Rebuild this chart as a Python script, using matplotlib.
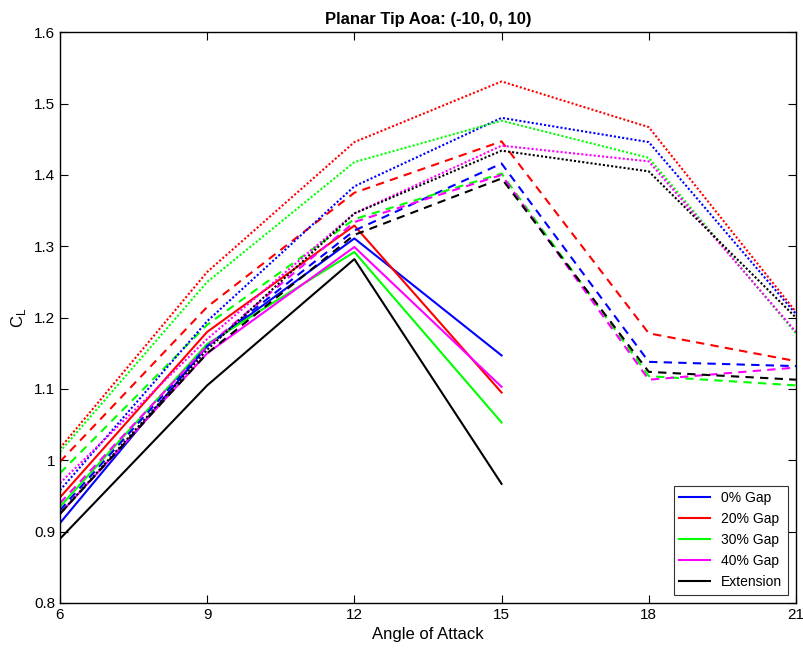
import matplotlib.pyplot as plt
import numpy as np
from matplotlib.ticker import FuncFormatter

plt.rcParams['font.family'] = ['Liberation Sans', 'DejaVu Sans']

# angles of attack
aoa_short = [6, 9, 12, 15]
aoa_long = [6, 9, 12, 15, 18, 21]

labels = ['0% Gap', '20% Gap', '30% Gap', '40% Gap', 'Extension']
colors = [(0, 0, 1), (1, 0, 0), (0, 1, 0), (1, 0, 1), (0, 0, 0)]

# solid lines (6-15)
solid_gap0 = [0.912, 1.160, 1.311, 1.147]
solid_gap20 = [0.948, 1.180, 1.329, 1.095]
solid_gap30 = [0.935, 1.163, 1.292, 1.053]
solid_gap40 = [0.925, 1.150, 1.299, 1.103]
solid_ext = [0.890, 1.105, 1.282, 0.967]

# dashed lines (6-21)
dash_gap0 = [0.930, 1.160, 1.322, 1.416, 1.138, 1.132]
dash_gap20 = [0.998, 1.215, 1.375, 1.447, 1.178, 1.139]
dash_gap30 = [0.982, 1.190, 1.338, 1.402, 1.118, 1.105]
dash_gap40 = [0.940, 1.160, 1.334, 1.400, 1.113, 1.130]
dash_ext = [0.925, 1.150, 1.316, 1.395, 1.124, 1.113]

# dotted lines (6-21)
dot_gap0 = [0.958, 1.195, 1.384, 1.480, 1.446, 1.205]
dot_gap20 = [1.017, 1.264, 1.446, 1.531, 1.467, 1.208]
dot_gap30 = [1.012, 1.250, 1.418, 1.476, 1.424, 1.178]
dot_gap40 = [0.968, 1.170, 1.346, 1.441, 1.419, 1.180]
dot_ext = [0.925, 1.155, 1.346, 1.434, 1.405, 1.200]

solid = [solid_gap0, solid_gap20, solid_gap30, solid_gap40, solid_ext]
dashed = [dash_gap0, dash_gap20, dash_gap30, dash_gap40, dash_ext]
dotted = [dot_gap0, dot_gap20, dot_gap30, dot_gap40, dot_ext]

fig = plt.figure(figsize=(8.04, 6.58), dpi=100)
ax = fig.add_axes([0.0746, 0.0836, 0.9154, 0.8674])

for ys, c, lab in zip(solid, colors, labels):
    ax.plot(aoa_short, ys, color=c, lw=1.5, label=lab)
for ys, c in zip(dashed, colors):
    ax.plot(aoa_long, ys, color=c, lw=1.5, ls=(0, (4, 3)))
for ys, c in zip(dotted, colors):
    ax.plot(aoa_long, ys, color=c, lw=1.5, ls=(0, (1, 1)))

ax.set_xlim(6, 21)
ax.set_ylim(0.8, 1.6)
ax.set_xticks([6, 9, 12, 15, 18, 21])
ax.set_yticks(np.arange(0.8, 1.61, 0.1))
ax.yaxis.set_major_formatter(FuncFormatter(lambda v, p: f'{v:g}'))
ax.tick_params(direction='in', top=True, right=True, labelsize=11, length=6)
for s in ax.spines.values():
    s.set_linewidth(1.0)

ax.set_xlabel('Angle of Attack', fontsize=12)
ax.set_ylabel('C$_\\mathregular{L}$', fontsize=12)
ax.set_title('Planar Tip Aoa: (-10, 0, 10)', fontsize=12, fontweight='bold')

leg = ax.legend(loc='lower right', fontsize=10, fancybox=False, edgecolor='k',
                borderaxespad=0.6, handlelength=2.2)
leg.get_frame().set_linewidth(0.8)

plt.savefig('out.png', dpi=100)
